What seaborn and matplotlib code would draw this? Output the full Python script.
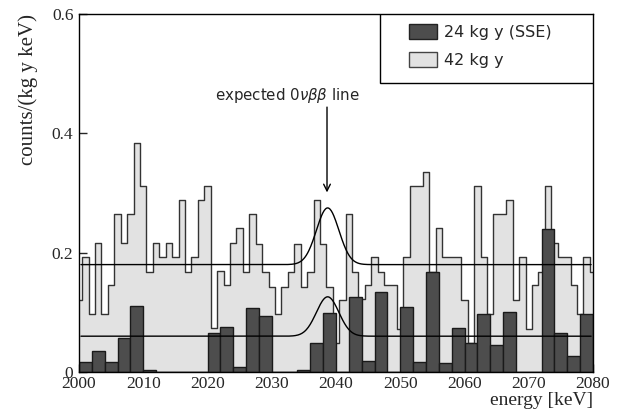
import numpy as np
import pandas as pd
import matplotlib
matplotlib.use("Agg")
import matplotlib.pyplot as plt
from matplotlib.patches import Patch, Rectangle
import seaborn as sns

# ---------------- data ----------------
# 42 kg y spectrum, 1 keV bins centred on integer energies
light_energy = list(range(2000, 2081))
light_counts = [
    0.120, 0.193, 0.097, 0.216, 0.097, 0.145, 0.265, 0.216, 0.265, 0.384,   # 2000-2009
    0.312, 0.168, 0.216, 0.193, 0.216, 0.193, 0.288, 0.168, 0.193, 0.288,   # 2010-2019
    0.312, 0.074, 0.170, 0.145, 0.216, 0.241, 0.167, 0.265, 0.214, 0.167,   # 2020-2029
    0.143, 0.097, 0.143, 0.167, 0.214, 0.143, 0.167, 0.288, 0.214, 0.143,   # 2030-2039
    0.048, 0.120, 0.265, 0.167, 0.122, 0.145, 0.192, 0.168, 0.145, 0.145,   # 2040-2049
    0.072, 0.193, 0.312, 0.312, 0.336, 0.167, 0.241, 0.193, 0.193, 0.193,   # 2050-2059
    0.120, 0.049, 0.312, 0.193, 0.097, 0.265, 0.265, 0.288, 0.120, 0.193,   # 2060-2069
    0.072, 0.145, 0.167, 0.312, 0.216, 0.193, 0.193, 0.145, 0.097, 0.193,   # 2070-2079
    0.167,                                                                  # 2080
]
# 24 kg y (SSE) spectrum, 2 keV bins starting at even energies
dark_start = list(range(2000, 2080, 2))
dark_counts = [
    0.017, 0.036, 0.017, 0.057, 0.111,   # 2000-2008
    0.004, 0.0, 0.0, 0.0, 0.0,           # 2010-2018
    0.066, 0.076, 0.008, 0.107, 0.094,   # 2020-2028
    0.0, 0.0, 0.003, 0.048, 0.099,       # 2030-2038
    0.0, 0.125, 0.018, 0.134, 0.0,       # 2040-2048
    0.109, 0.016, 0.167, 0.015, 0.074,   # 2050-2058
    0.049, 0.097, 0.046, 0.101, 0.0,     # 2060-2068
    0.0, 0.240, 0.065, 0.027, 0.097,     # 2070-2078
]
# expected line shapes: flat background + gaussian at Q
line_bkg = [0.180, 0.060]
line_amp = [0.095, 0.066]
line_mu = 2038.7
line_sigma = 1.75

legend_labels = ["24 kg y (SSE)", "42 kg y"]
x_ticks = [2000, 2010, 2020, 2030, 2040, 2050, 2060, 2070, 2080]
y_ticks = [0, 0.2, 0.4, 0.6]
y_ticklabels = ["0", "0.2", "0.4", "0.6"]

# ---------------- style ----------------
sns.set_style("ticks")
plt.rcParams["font.family"] = ["Liberation Serif", "DejaVu Serif"]
plt.rcParams["mathtext.fontset"] = "dejavusans"

LIGHT = "#e2e2e2"
DARK = "#4d4d4d"

fig = plt.figure(figsize=(6.25, 4.13), dpi=100)
ax = fig.add_axes([0.1264, 0.0993, 0.8224, 0.8667])

light_df = pd.DataFrame({"energy": light_energy, "w": light_counts})
light_edges = [1999.5 + i for i in range(82)]
sns.histplot(data=light_df, x="energy", weights="w", bins=light_edges,
             element="step", fill=True, color=LIGHT, alpha=1.0,
             edgecolor="#333333", linewidth=1.0, ax=ax, zorder=1)

dark_df = pd.DataFrame({"energy": [s + 1 for s in dark_start], "w": dark_counts})
dark_edges = [2000 + 2 * i for i in range(41)]
sns.histplot(data=dark_df, x="energy", weights="w", bins=dark_edges,
             element="bars", fill=True, color=DARK, alpha=1.0,
             edgecolor="#1a1a1a", linewidth=1.0, ax=ax, zorder=2)

xs = np.linspace(2000.3, 2079.7, 800)
for b, a in zip(line_bkg, line_amp):
    ys = b + a * np.exp(-0.5 * ((xs - line_mu) / line_sigma) ** 2)
    sns.lineplot(x=xs, y=ys, color="black", linewidth=1.0, ax=ax, zorder=4)

ax.set_xlim(2000, 2080)
ax.set_ylim(0, 0.6)
ax.set_xticks(x_ticks)
ax.set_yticks(y_ticks)
ax.set_yticklabels(y_ticklabels)
ax.tick_params(direction="in", length=6, width=1, labelsize=12.5, pad=4)
ax.tick_params(axis="x", pad=3)
for sp in ax.spines.values():
    sp.set_visible(True)
    sp.set_linewidth(1.0)
    sp.set_color("black")

ax.set_xlabel("energy [keV]", fontsize=14, loc="right", labelpad=0)
ax.set_ylabel("counts/(kg y keV)", fontsize=15, loc="top", labelpad=10)

# annotation
ax.text(2032.45, 0.464, r"expected 0$\nu\beta\beta$ line", ha="center", va="center",
        fontsize=10.8, family="DejaVu Sans", zorder=6)
ax.annotate("", xy=(2038.6, 0.301), xytext=(2038.6, 0.444),
            arrowprops=dict(arrowstyle="->", lw=1.0, color="black",
                            shrinkA=0, shrinkB=0, mutation_scale=12), zorder=6)

# legend box
ax.add_patch(Rectangle((0.586, 0.808), 0.414, 0.192, transform=ax.transAxes,
                       facecolor="white", edgecolor="black", lw=1.0, zorder=7))
handles = [Patch(facecolor=DARK, edgecolor="#222222", lw=1.0),
           Patch(facecolor=LIGHT, edgecolor="#444444", lw=1.0)]
leg = ax.legend(handles, legend_labels, loc="upper left",
                bbox_to_anchor=(0.624, 1.0), frameon=False,
                prop={"family": "DejaVu Sans", "size": 11.5},
                handlelength=1.75, handleheight=1.1, handletextpad=0.45,
                labelspacing=0.75, borderpad=0.1)
leg.set_zorder(8)

fig.savefig("out.png", dpi=100)
